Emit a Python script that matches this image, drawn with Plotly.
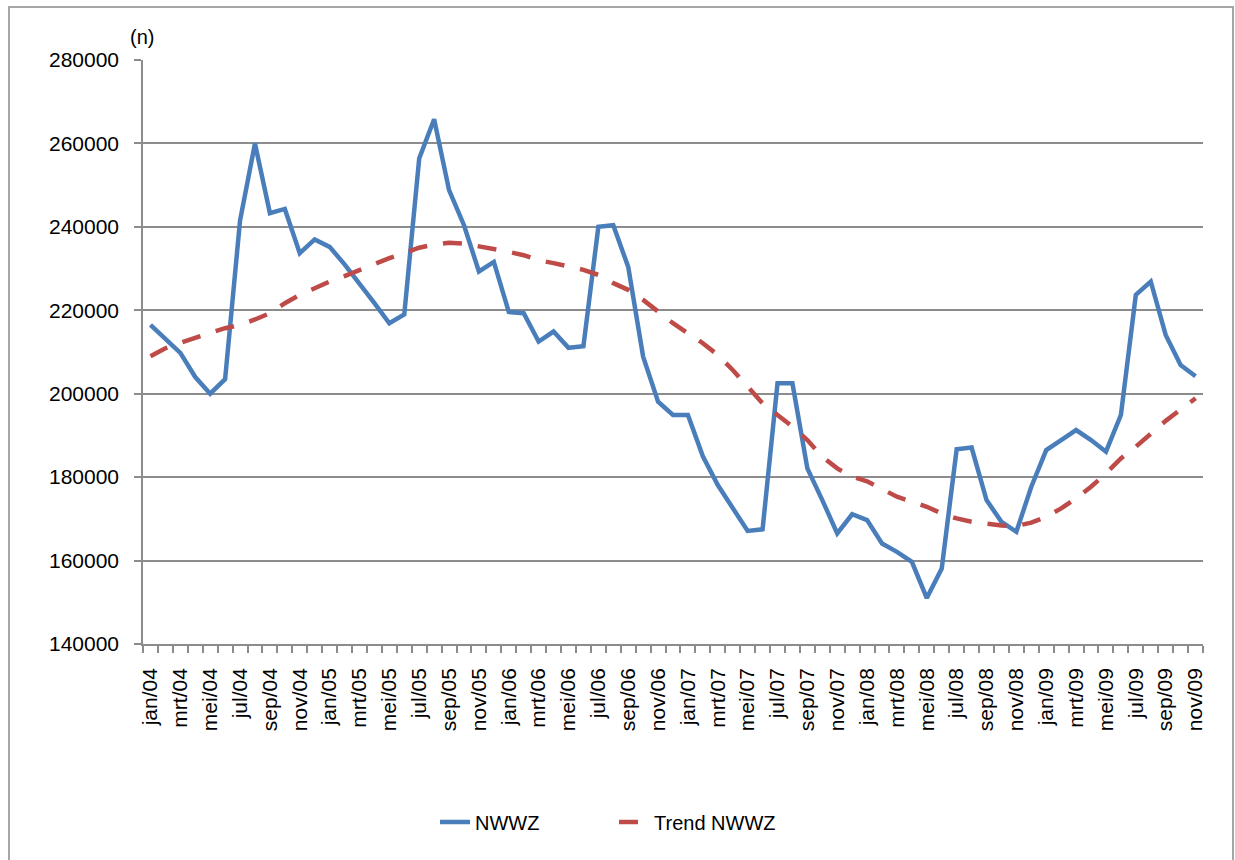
import plotly.graph_objects as go

months = []
for yy in ["04", "05", "06", "07", "08", "09"]:
    for m in ["jan", "feb", "mrt", "apr", "mei", "jun", "jul", "aug", "sep", "okt", "nov", "dec"]:
        months.append(f"{m}/{yy}")
months = months[:71]  # jan/04 .. nov/09

nwwz = [
    216500, 213000, 209800, 204000, 200000, 203500, 241500, 260000, 243300, 244300, 233700, 237000,
    235200, 231000, 226500, 221700, 216900, 219000, 256400, 265800, 248800, 240400, 229300, 231600,
    219600, 219300, 212500, 214900, 211000, 211400, 240000, 240400, 230400, 208900, 198100, 194900,
    194900, 185000, 178100, 172500, 167100, 167500, 202500, 202500, 182100, 174500, 166500, 171100,
    169700, 164100, 162100, 159700, 151000, 158100, 186700, 187100, 174500, 169300, 166900, 177700,
    186500, 188900, 191300, 188900, 186100, 194900, 223700, 226900, 214100, 206900, 204200,
]

trend = [
    209000, 210900, 212200, 213500, 214600, 215700, 216500, 217800, 219300, 221700, 223700, 225300,
    226900, 228200, 229700, 231000, 232500, 233700, 235000, 235800, 236200, 236000, 235400, 234600,
    234000, 233200, 232000, 231300, 230500, 229700, 228500, 226500, 224900, 222500, 219700, 216900,
    214500, 212100, 209300, 205700, 201700, 197700, 194900, 192100, 188900, 184900, 182100, 180100,
    179000, 177300, 175300, 174100, 172900, 171300, 170100, 169300, 168800, 168400, 168300, 169100,
    170500, 172500, 174900, 177700, 180900, 184500, 187300, 190500, 193500, 196200, 198900,
]

y_ticks = [140000, 160000, 180000, 200000, 220000, 240000, 260000, 280000]

x = list(range(len(months)))
FONT = "Liberation Sans"

fig = go.Figure()
fig.add_trace(go.Scatter(
    x=x, y=nwwz, mode="lines", name="NWWZ",
    line=dict(color="#4A7EBB", width=4.5),
))
fig.add_trace(go.Scatter(
    x=x, y=trend, mode="lines", name="Trend NWWZ",
    line=dict(color="#BE4B48", width=4.5, dash="19px,16px"),
))

L, R, T, B = 143, 32, 60, 216
W, H = 1235, 860
pw, ph = W - L - R, H - T - B

def px2paper_x(px):
    return (px - L) / pw

def px2paper_y(py):
    return 1 - (py - T) / ph

fig.update_layout(
    width=W, height=H,
    margin=dict(l=L, r=R, t=T, b=B, pad=0),
    paper_bgcolor="white", plot_bgcolor="white",
    font=dict(family=FONT, size=20, color="#000000"),
    showlegend=True,
    legend=dict(
        orientation="h", x=px2paper_x(614), xanchor="center",
        y=px2paper_y(822), yanchor="middle",
        font=dict(family=FONT, size=20, color="#000000"),
        bgcolor="rgba(0,0,0,0)", entrywidth=134, entrywidthmode="pixels",
        tracegroupgap=0,
    ),
    xaxis=dict(
        range=[-0.5, len(months) - 0.5],
        tickmode="array",
        tickvals=x[::2],
        ticktext=months[::2],
        tickangle=-90,
        ticks="",
        ticklabelstandoff=14,
        showgrid=False,
        showline=True, linecolor="#8C8C8C", linewidth=1.5,
        zeroline=False,
        tickfont=dict(family=FONT, size=21, color="#000000"),
        minor=dict(ticks="outside", tick0=-0.5, dtick=1, ticklen=7,
                   tickcolor="#8C8C8C", tickwidth=1.5, showgrid=False),
        fixedrange=True,
    ),
    yaxis=dict(
        range=[140000, 280000],
        tickmode="array", tickvals=y_ticks,
        ticktext=[str(v) for v in y_ticks],
        ticks="outside", ticklen=7, tickcolor="#8C8C8C", tickwidth=1.5,
        showgrid=True, gridcolor="#8C8C8C", gridwidth=1.5,
        showline=True, linecolor="#8C8C8C", linewidth=1.5,
        zeroline=False,
        tickfont=dict(family=FONT, size=21, color="#000000"),
        ticklabelstandoff=11,
        fixedrange=True,
    ),
    annotations=[dict(
        text="(n)", xref="paper", yref="paper",
        x=px2paper_x(142), y=px2paper_y(37), xanchor="center", yanchor="middle",
        showarrow=False, font=dict(family=FONT, size=20, color="#000000"),
    )],
    shapes=[dict(
        type="rect", xref="paper", yref="paper",
        x0=px2paper_x(9), x1=px2paper_x(1233),
        y0=px2paper_y(865), y1=px2paper_y(7),
        line=dict(color="#A6A6A6", width=2), fillcolor="rgba(0,0,0,0)",
        layer="below",
    )],
)

fig.write_html(
    "out.html",
    config={"displayModeBar": False},
    post_script="document.body.style.margin='0';document.body.style.padding='0';",
)
